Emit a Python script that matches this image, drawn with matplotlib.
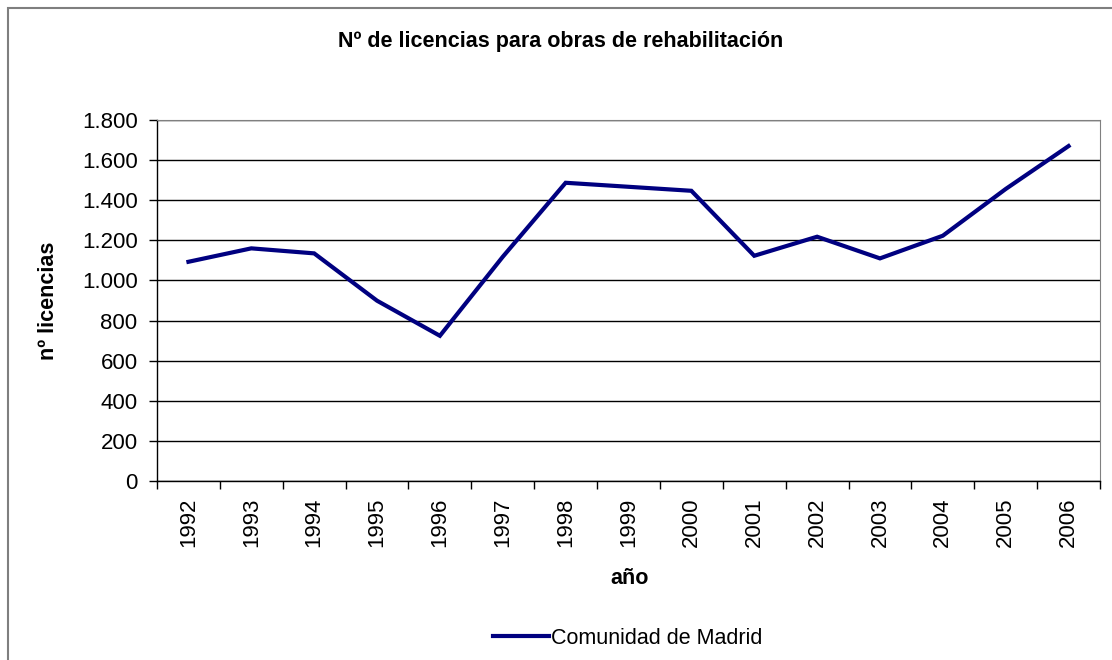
import matplotlib.pyplot as plt
from matplotlib.ticker import FuncFormatter, FixedLocator

plt.rcParams['font.family'] = ['Liberation Sans', 'DejaVu Sans']

years = [str(y) for y in range(1992, 2007)]
licencias = [1093, 1160, 1135, 899, 724, 1118, 1487, 1467, 1447,
             1123, 1218, 1110, 1223, 1456, 1670]
y_ticks = [0, 200, 400, 600, 800, 1000, 1200, 1400, 1600, 1800]


def miles(v, pos):
    return f"{int(v):,}".replace(",", ".")


def main():
    fig = plt.figure(figsize=(11.12, 6.6), dpi=100)
    W, H = 1112, 660

    # marco del gráfico
    border = plt.Rectangle((8 / W, -0.1), 1.2, 1 - 8 / H + 0.1,
                           transform=fig.transFigure, fill=False,
                           edgecolor='#7f7f7f', linewidth=1.5)
    fig.patches.append(border)

    ax = fig.add_axes([157 / W, 1 - 481 / H, (1100 - 157) / W, (481 - 120) / H])

    x = list(range(len(years)))
    ax.plot(x, licencias, color='#000080', linewidth=3.0,
            solid_joinstyle='miter', label='Comunidad de Madrid')

    ax.set_xlim(-0.5, len(years) - 0.5)
    ax.set_ylim(0, 1800)
    ax.set_yticks(y_ticks)
    ax.yaxis.set_major_formatter(FuncFormatter(miles))
    ax.set_xticks(x)
    ax.set_xticklabels(years, rotation=90)
    ax.xaxis.set_minor_locator(FixedLocator([i - 0.5 for i in range(len(years) + 1)]))
    ax.tick_params(axis='x', which='major', length=0, pad=12, labelsize=16)
    ax.tick_params(axis='x', which='minor', length=6, width=1, direction='out')
    ax.tick_params(axis='y', length=6, width=1, direction='out', pad=8, labelsize=16)

    ax.grid(axis='y', color='black', linewidth=1)
    ax.set_axisbelow(True)
    for side in ['left', 'bottom']:
        ax.spines[side].set_color('black')
        ax.spines[side].set_linewidth(1)
    ax.spines['top'].set_color('#808080')
    ax.spines['right'].set_color('#808080')

    fig.text(561 / W, 1 - 42 / H, "Nº de licencias para obras de rehabilitación",
             ha='center', va='center', fontsize=15.5, fontweight='bold')
    fig.text(49 / W, 1 - 301 / H, "nº licencias", rotation=90,
             ha='center', va='center', fontsize=15.5, fontweight='bold')
    fig.text(630 / W, 1 - 579 / H, "año", ha='center', va='center',
             fontsize=15.5, fontweight='bold')

    ax.legend(loc='center', bbox_to_anchor=(628 / W, 1 - 638 / H),
              bbox_transform=fig.transFigure, frameon=False, fontsize=15.5,
              handlelength=2.6, handletextpad=0.1)

    fig.savefig("out.png", dpi=100)


if __name__ == "__main__":
    main()
